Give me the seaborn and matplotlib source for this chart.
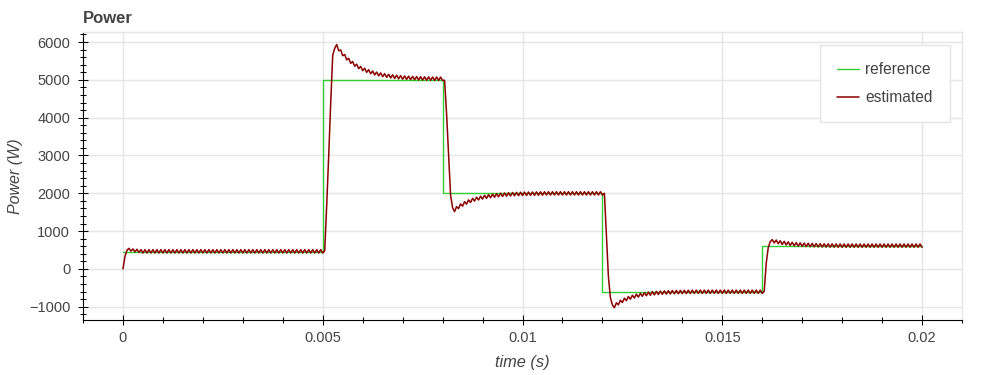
import numpy as np
import pandas as pd
import matplotlib
matplotlib.use("Agg")
import matplotlib.pyplot as plt
import seaborn as sns
from matplotlib.ticker import FixedLocator, MultipleLocator

# ---------------- data ----------------
ref_time = [0.0, 0.005, 0.008, 0.012, 0.016, 0.02]
ref_power = [450, 5000, 2000, -600, 600, 600]

sample_step = 0.00005
seg_start = [0.0, 0.00505, 0.00805, 0.01205, 0.01605]

est_a = [0, 330, 490, 545, 470, 530, 450, 520, 435, 510,
         420, 510, 420, 510, 420, 510, 420, 510, 420, 510,
         420, 510, 420, 510, 420, 510, 420, 510, 420, 510,
         420, 510, 420, 510, 420, 510, 420, 510, 420, 510,
         420, 510, 420, 510, 420, 510, 420, 510, 420, 510,
         420, 510, 420, 510, 420, 510, 420, 510, 420, 510,
         420, 510, 420, 510, 420, 510, 420, 510, 420, 510,
         420, 510, 420, 510, 420, 510, 420, 510, 420, 510,
         420, 510, 420, 510, 420, 510, 420, 510, 420, 510,
         420, 510, 420, 510, 420, 510, 420, 510, 420, 510,
         420]
est_b = [480, 1700, 3000, 4400, 5650, 5830,
         5935, 5769, 5790, 5637, 5670, 5527, 5569, 5435, 5485, 5359,
         5415, 5295, 5357, 5242, 5308, 5197, 5268, 5160, 5234, 5129,
         5206, 5104, 5182, 5082, 5163, 5064, 5147, 5049, 5133, 5037,
         5122, 5027, 5112, 5018, 5104, 5011, 5098, 5005, 5092, 5000,
         5088, 4996, 5084, 4992, 5081, 4989, 5078, 4987, 5076, 4985,
         5074, 4983, 5073, 4982]
est_c = [4990, 4100, 3000, 1950, 1620,
         1515, 1647, 1595, 1719, 1660, 1778, 1713, 1826, 1757, 1866,
         1793, 1898, 1822, 1925, 1846, 1947, 1866, 1964, 1882, 1979,
         1895, 1991, 1906, 2001, 1915, 2009, 1922, 2015, 1928, 2021,
         1933, 2025, 1937, 2029, 1940, 2032, 1943, 2034, 1945, 2036,
         1947, 2038, 1948, 2039, 1950,
         2042, 1954, 2042, 1954, 2042, 1954, 2042, 1954, 2042, 1954,
         2042, 1954, 2042, 1954, 2042, 1954, 2042, 1954, 2042, 1954,
         2042, 1954, 2042, 1954, 2042, 1954, 2042, 1954, 2042, 1954]
est_d = [2000, 900, -200, -760, -950,
         -1025, -895, -949, -827, -889, -773, -840, -730, -801, -695,
         -770, -667, -745, -645, -725, -627, -709, -612, -696, -601,
         -686, -592, -678, -585, -671, -579, -666, -574, -662, -570,
         -659, -567, -656, -565, -654, -563, -652, -561, -651, -560,
         -648, -558, -648, -558, -648, -558, -648, -558, -648, -558,
         -648, -558, -648, -558, -648, -558, -648, -558, -648, -558,
         -648, -558, -648, -558, -648, -558, -648, -558, -648, -558,
         -648, -558, -648, -558, -648]
est_e = [-590, 150, 560, 720,
         775, 687, 766, 666, 746, 648, 730, 633, 717, 621,
         706, 611, 697, 603, 690, 597, 684, 591, 679, 587,
         675, 583, 672, 580, 669, 578, 667, 576, 665, 574,
         664, 573, 662,
         571, 661, 571, 661, 571, 661, 571, 661, 571, 661,
         571, 661, 571, 661, 571, 661, 571, 661, 571, 661,
         571, 661, 571, 661, 571, 661, 571, 661, 571, 661,
         571, 661, 571, 661, 571, 661, 571, 661, 571, 661,
         571, 661, 571]

x_ticks = [0, 0.005, 0.01, 0.015, 0.02]
x_tick_labels = ["0", "0.005", "0.01", "0.015", "0.02"]
y_ticks = [-1000, 0, 1000, 2000, 3000, 4000, 5000, 6000]
y_tick_labels = ["\u22121000", "0", "1000", "2000", "3000", "4000", "5000", "6000"]

# ---------------- frames ----------------
ref_df = pd.DataFrame({"time": ref_time, "power": ref_power})
est_parts = []
for start, seg in zip(seg_start, [est_a, est_b, est_c, est_d, est_e]):
    est_parts.append(pd.DataFrame({
        "time": start + np.arange(len(seg)) * sample_step,
        "power": seg,
    }))
est_df = pd.concat(est_parts, ignore_index=True)

# ---------------- style ----------------
sns.set_style("white")
plt.rcParams["font.family"] = ["Liberation Sans", "DejaVu Sans"]

fig = plt.figure(figsize=(10, 3.75), dpi=100)
ax = fig.add_axes([0.083, 0.1467, 0.879, 0.768])

sns.lineplot(data=ref_df, x="time", y="power", ax=ax, color="#32cd32",
             linewidth=1.0, drawstyle="steps-post", estimator=None,
             sort=False, label="reference")
sns.lineplot(data=est_df, x="time", y="power", ax=ax, color="#8b0000",
             linewidth=1.1, estimator=None, sort=False, label="estimated")

ax.set_xlim(-0.001, 0.021)
ax.set_ylim(-1350, 6265)

ax.xaxis.set_major_locator(FixedLocator(x_ticks))
ax.set_xticklabels(x_tick_labels)
ax.xaxis.set_minor_locator(MultipleLocator(0.001))
ax.yaxis.set_major_locator(FixedLocator(y_ticks))
ax.set_yticklabels(y_tick_labels)
ax.yaxis.set_minor_locator(MultipleLocator(200))

ax.grid(True, which="major", color="#e5e5e5", linewidth=1.0)
ax.set_axisbelow(True)

for side in ["left", "bottom"]:
    ax.spines[side].set_color("black")
    ax.spines[side].set_linewidth(0.8)
for side in ["top", "right"]:
    ax.spines[side].set_color("#e5e5e5")
    ax.spines[side].set_linewidth(1.0)

ax.tick_params(axis="both", which="both", bottom=True, left=True,
               top=False, right=False)
ax.tick_params(axis="both", which="major", direction="inout", length=6.5,
               width=0.75, color="black", labelsize=10.5, labelcolor="#444444")
ax.tick_params(axis="both", which="minor", direction="inout", length=4.5,
               width=0.75, color="black")
ax.tick_params(axis="y", which="major", pad=6)
ax.tick_params(axis="x", which="major", pad=5)

ax.set_xlabel("time (s)", fontsize=11.8, fontstyle="italic", color="#444444")
ax.set_ylabel("Power (W)", fontsize=11.5, fontstyle="italic", color="#444444")
ax.xaxis.set_label_coords(0.5, -0.1215)
ax.yaxis.set_label_coords(-0.0683, 0.5)

ax.set_title("Power", loc="left", fontsize=12, fontweight="bold",
             color="#444444", pad=6.5)

leg = ax.legend(loc="upper right", bbox_to_anchor=(0.9863, 0.9549),
                borderaxespad=0, fontsize=11.2, frameon=True, fancybox=False,
                framealpha=1.0, edgecolor="#e5e5e5", handlelength=1.45,
                handletextpad=0.4, borderpad=1.1, labelspacing=0.85)
leg.get_frame().set_linewidth(1.0)
for txt in leg.get_texts():
    txt.set_color("#444444")

fig.savefig("out.png", dpi=100)
